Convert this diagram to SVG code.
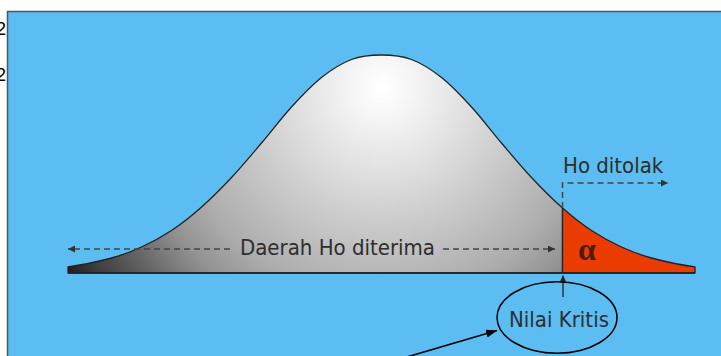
<svg xmlns="http://www.w3.org/2000/svg" width="721" height="356" viewBox="0 0 721 356">
<defs>
<radialGradient id="gray" gradientUnits="userSpaceOnUse" cx="382" cy="88" r="380">
<stop offset="0" stop-color="#ffffff"/>
<stop offset="0.07" stop-color="#f7f7f7"/>
<stop offset="0.27" stop-color="#d9d9d9"/>
<stop offset="0.55" stop-color="#adadad"/>
<stop offset="0.66" stop-color="#929292"/>
<stop offset="0.79" stop-color="#606060"/>
<stop offset="0.88" stop-color="#404040"/>
<stop offset="0.95" stop-color="#222222"/>
<stop offset="1" stop-color="#1a1a1a"/>
</radialGradient>
<marker id="dh" viewBox="0 0 10 10" refX="10" refY="5" markerWidth="7" markerHeight="7" markerUnits="userSpaceOnUse" orient="auto">
<path d="M0,0 L10,5 L0,10 Z" fill="#333"/>
</marker>
<marker id="bh" viewBox="0 0 10 10" refX="10" refY="5" markerWidth="11" markerHeight="8" markerUnits="userSpaceOnUse" orient="auto" preserveAspectRatio="none">
<path d="M0,0 L10,5 L0,10 Z" fill="#000"/>
</marker>
<marker id="sh" viewBox="0 0 10 10" refX="10" refY="5" markerWidth="6" markerHeight="6" markerUnits="userSpaceOnUse" orient="auto">
<path d="M0,0 L10,5 L0,10 Z" fill="#222"/>
</marker>
</defs>
<style>
.lbl{font-family:"DejaVu Sans Condensed","DejaVu Sans",sans-serif;font-size:22px;fill:#2e2e2e;font-stretch:condensed}
.dash{fill:none;stroke:#444;stroke-width:1.5;stroke-dasharray:6 4}
.curve{stroke:#222;stroke-width:1.3;stroke-linejoin:round}
</style>
<text x="-4" y="35" font-family="Liberation Sans, sans-serif" font-size="18" fill="#000">2</text>
<text x="-4" y="81" font-family="Liberation Sans, sans-serif" font-size="18" fill="#000">2</text>
<rect id="panel" x="7.5" y="11.5" width="720" height="350" fill="#5bbdf1" stroke="#555" stroke-width="1.5"/>
<g id="accept-region">
<path class="curve" fill="url(#gray)" d="M68,273 L68,266.8 C82.5,265.06 97,261.9 111.5,258 C121.5,255.31 131.5,251.58 141.5,247 C151.5,242.42 161.5,237.11 171.5,230.5 C181.17,224.11 190.83,216.54 200.5,208 C210.83,198.88 221.17,188.52 231.5,177.5 C241.5,166.84 251.5,154.75 261.5,143 C271.5,131.25 281.5,117.92 291.5,107 C301.5,96.08 311.5,85.42 321.5,77.5 C331.5,69.58 341.5,63.25 351.5,59.5 C361.5,55.75 371.5,55 381.5,55 C391.5,55 401.5,55.75 411.5,59.5 C421.5,63.25 431.5,69.58 441.5,77.5 C451.5,85.42 461.5,96.08 471.5,107 C481.5,117.92 491.5,131.25 501.5,143 C511.5,154.75 521.5,166.84 531.5,177.5 C541.83,188.52 552.17,198.88 562.5,208 L562.5,273 Z"/>
</g>
<g id="reject-region">
<path class="curve" fill="#ea3c00" d="M562.5,208 C572.17,216.54 581.83,224.11 591.5,230.5 C601.5,237.11 611.5,242.42 621.5,247 C631.5,251.58 641.5,255.31 651.5,258 C666,261.9 680.5,265.06 695,266.8 L695,273 L562.5,273 Z"/>
<text x="587" y="260" text-anchor="middle" font-family="Liberation Serif, serif" font-size="32" font-weight="bold" fill="#4e1a0a">α</text>
</g>
<line id="baseline" x1="68" y1="273" x2="695" y2="273" stroke="#222" stroke-width="1.6"/>
<g id="connectors">
<line class="dash" x1="230" y1="249" x2="68" y2="249" marker-end="url(#dh)"/>
<line class="dash" x1="443" y1="249" x2="555" y2="249" marker-end="url(#dh)"/>
<polyline class="dash" points="562.5,208 562.5,183 668,183" marker-end="url(#dh)"/>
<line x1="563" y1="297" x2="563" y2="275.5" stroke="#222" stroke-width="1.3" marker-end="url(#sh)"/>
<line x1="400" y1="359" x2="497" y2="330.5" stroke="#000" stroke-width="1.6" marker-end="url(#bh)"/>
</g>
<g id="label-accept">
<text class="lbl" x="240" y="255">Daerah Ho diterima</text>
</g>
<g id="label-reject">
<text class="lbl" x="563" y="173">Ho ditolak</text>
</g>
<g id="critical-value">
<ellipse cx="557" cy="317.5" rx="60" ry="35.7" fill="none" stroke="#000" stroke-width="1.5"/>
<text class="lbl" x="559" y="327" text-anchor="middle">Nilai Kritis</text>
</g>
</svg>
